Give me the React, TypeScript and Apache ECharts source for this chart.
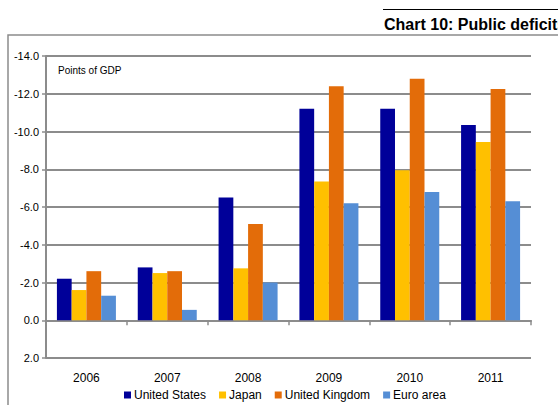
import React, { useEffect, useRef } from "react";
import * as echarts from "echarts";

const categories = ["2006", "2007", "2008", "2009", "2010", "2011"];
const unitedStates = [-2.2, -2.8, -6.5, -11.2, -11.2, -10.35];
const japan = [-1.6, -2.5, -2.75, -7.35, -7.95, -9.45];
const unitedKingdom = [-2.6, -2.6, -5.1, -12.4, -12.8, -12.25];
const euroArea = [-1.3, -0.55, -2.0, -6.2, -6.8, -6.3];
const seriesNames = ["United States", "Japan", "United Kingdom", "Euro area"];
const colors = ["#000099", "#FFC000", "#E36C09", "#558ED5"];

export default function App() {
  const ref = useRef<HTMLDivElement>(null);
  useEffect(() => {
    if (!ref.current) return;
    const chart = echarts.init(ref.current, undefined, { renderer: "svg" });
    const data = [unitedStates, japan, unitedKingdom, euroArea];
    chart.setOption({
      animation: false,
      backgroundColor: "#ffffff",
      textStyle: { fontFamily: "Liberation Sans, Arial, sans-serif" },
      grid: {
        left: 46,
        right: 27,
        top: 56,
        height: 302,
        containLabel: false,
        outerBoundsMode: "none",
      },
      legend: {
        left: 119,
        top: 384,
        itemWidth: 7,
        itemHeight: 7,
        itemGap: 13,
        icon: "rect",
        textStyle: { fontSize: 12, color: "#000", padding: [0, 0, 0, -2] },
        data: seriesNames,
      },
      graphic: [
        {
          type: "rect",
          shape: { x: 8, y: 35, width: 620, height: 420 },
          style: { fill: "none", stroke: "#8c8c8c", lineWidth: 1.5 },
        },
        {
          type: "line",
          shape: { x1: 383, y1: 9.5, x2: 558, y2: 9.5 },
          style: { stroke: "#000", lineWidth: 1 },
        },
        {
          type: "text",
          x: 384,
          y: 16,
          style: {
            text: "Chart 10: Public deficits",
            font: "bold 16px 'Liberation Sans Narrow', 'Arial Narrow', sans-serif",
            fill: "#000",
          },
        },
        {
          type: "text",
          x: 58,
          y: 65,
          style: {
            text: "Points of GDP",
            font: "10px 'Liberation Sans', Arial, sans-serif",
            fill: "#000",
          },
        },
      ],
      xAxis: {
        type: "category",
        data: categories,
        axisLine: { onZero: true, lineStyle: { color: "#8c8c8c", width: 2 } },
        axisTick: { show: true, length: 5, lineStyle: { color: "#8c8c8c", width: 1.5 } },
        axisLabel: { margin: 14, fontSize: 12, color: "#000" },
        splitLine: { show: false },
      },
      yAxis: {
        type: "value",
        inverse: true,
        min: -14,
        max: 2,
        interval: 2,
        axisLine: { show: true, lineStyle: { color: "#8c8c8c", width: 2 } },
        axisTick: { show: true, length: 4, lineStyle: { color: "#8c8c8c", width: 1.5 } },
        axisLabel: {
          fontSize: 11,
          color: "#000",
          margin: 7,
          formatter: (v: number) => v.toFixed(1),
        },
        splitLine: { lineStyle: { color: "#8c8c8c", width: 2 } },
      },
      series: seriesNames.map((name, i) => ({
        name,
        type: "bar",
        data: data[i],
        barGap: "0%",
        barCategoryGap: "27%",
        itemStyle: { color: colors[i] },
      })),
    });
    return () => chart.dispose();
  }, []);
  return (
    <div
      ref={ref}
      style={{ position: "fixed", left: 0, top: 0, width: 558, height: 405 }}
    />
  );
}
